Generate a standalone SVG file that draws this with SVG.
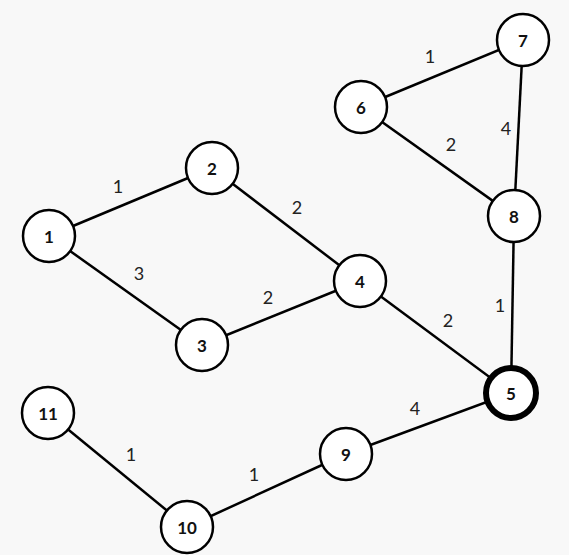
<svg xmlns="http://www.w3.org/2000/svg" width="569" height="555" viewBox="0 0 569 555">
<style>
.n circle{fill:#fff;stroke:#000;stroke-width:2.5}
.n text{font-family:Lato,"Liberation Sans",sans-serif;font-weight:bold;font-size:17px;fill:#111;text-anchor:middle;dominant-baseline:central}
#edges line{stroke:#000;stroke-width:2.5}
.w{font-family:Lato,"Liberation Sans",sans-serif;font-size:18px;fill:#222;text-anchor:middle;dominant-baseline:central}
</style>
<rect width="569" height="555" fill="#f8f8f8"/>
<g id="edges">
<line x1="49" y1="236" x2="212" y2="168"/>
<line x1="49" y1="236" x2="202" y2="345"/>
<line x1="212" y1="168" x2="360" y2="281"/>
<line x1="202" y1="345" x2="360" y2="281"/>
<line x1="360" y1="281" x2="511" y2="393"/>
<line x1="361" y1="107" x2="523" y2="40"/>
<line x1="361" y1="107" x2="514" y2="216"/>
<line x1="523" y1="40" x2="514" y2="216"/>
<line x1="514" y1="216" x2="511" y2="393"/>
<line x1="511" y1="393" x2="346" y2="454"/>
<line x1="346" y1="454" x2="187" y2="527"/>
<line x1="48" y1="413" x2="187" y2="527"/>
</g>
<g id="weights">
<text class="w" x="118" y="186">1</text>
<text class="w" x="139" y="273">3</text>
<text class="w" x="297" y="207">2</text>
<text class="w" x="268" y="297">2</text>
<text class="w" x="448" y="320">2</text>
<text class="w" x="430" y="56">1</text>
<text class="w" x="451" y="144">2</text>
<text class="w" x="506" y="128">4</text>
<text class="w" x="500" y="305">1</text>
<text class="w" x="415" y="408">4</text>
<text class="w" x="254" y="474">1</text>
<text class="w" x="131" y="454">1</text>
</g>
<g id="node1" class="n"><circle cx="49" cy="236" r="26"/><text x="49" y="236">1</text></g>
<g id="node2" class="n"><circle cx="212" cy="168" r="26"/><text x="212" y="168">2</text></g>
<g id="node3" class="n"><circle cx="202" cy="345" r="26"/><text x="202" y="345">3</text></g>
<g id="node4" class="n"><circle cx="360" cy="281" r="26"/><text x="360" y="281">4</text></g>
<g id="node5" class="n"><circle cx="511" cy="393" r="25" style="stroke-width:6"/><text x="511" y="393">5</text></g>
<g id="node6" class="n"><circle cx="361" cy="107" r="26"/><text x="361" y="107">6</text></g>
<g id="node7" class="n"><circle cx="523" cy="40" r="26"/><text x="523" y="40">7</text></g>
<g id="node8" class="n"><circle cx="514" cy="216" r="26"/><text x="514" y="216">8</text></g>
<g id="node9" class="n"><circle cx="346" cy="454" r="26"/><text x="346" y="454">9</text></g>
<g id="node10" class="n"><circle cx="187" cy="527" r="26"/><text x="187" y="527">10</text></g>
<g id="node11" class="n"><circle cx="48" cy="413" r="26"/><text x="48" y="413">11</text></g>
</svg>
